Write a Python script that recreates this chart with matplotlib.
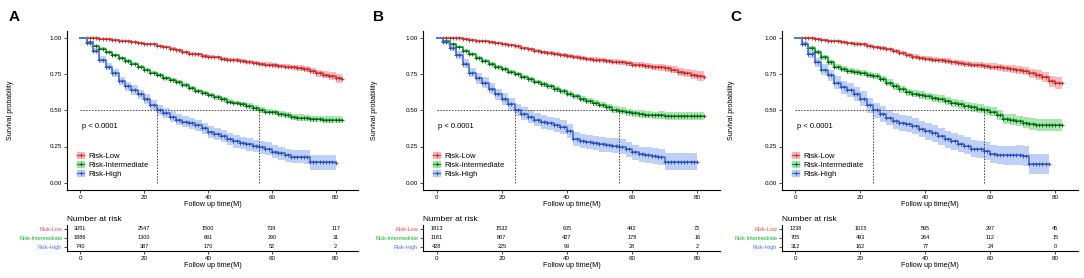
import matplotlib
matplotlib.use("Agg")
import matplotlib.pyplot as plt
from matplotlib.patches import Patch
from matplotlib.lines import Line2D
import numpy as np

plt.rcParams['font.family'] = ['Liberation Sans', 'DejaVu Sans']

# follow-up grid (months) used for all curves
t_grid = list(range(0, 84, 2))

groups = ["Risk-Low", "Risk-Intermediate", "Risk-High"]
colors = ["#F0484A", "#12B02A", "#4A78E6"]
mark_colors = ["#C02A2A", "#0A5A14", "#2A4AB0"]
fill_colors = ["#F7A3A3", "#8CDB97", "#A9C1F5"]

# ---- panel A ----
A_low = [1.00, 1.00, 0.995, 0.99, 0.99, 0.985, 0.98, 0.975, 0.97, 0.965, 0.96, 0.955, 0.945, 0.935,
         0.925, 0.915, 0.90, 0.89, 0.885, 0.875, 0.87, 0.865, 0.855, 0.85, 0.845, 0.84, 0.835, 0.825,
         0.82, 0.815, 0.81, 0.805, 0.80, 0.795, 0.79, 0.785, 0.77, 0.755, 0.745, 0.735, 0.72, 0.715]
A_int = [1.00, 0.97, 0.945, 0.925, 0.90, 0.88, 0.86, 0.84, 0.82, 0.80, 0.78, 0.76, 0.745, 0.725,
         0.71, 0.695, 0.675, 0.655, 0.635, 0.62, 0.605, 0.59, 0.575, 0.56, 0.55, 0.54, 0.53, 0.515,
         0.50, 0.49, 0.485, 0.475, 0.465, 0.455, 0.45, 0.445, 0.44, 0.44, 0.435, 0.435, 0.435, 0.435]
A_high = [1.00, 0.965, 0.91, 0.85, 0.80, 0.755, 0.70, 0.665, 0.64, 0.61, 0.575, 0.535, 0.50, 0.48,
          0.455, 0.435, 0.42, 0.41, 0.395, 0.375, 0.35, 0.335, 0.32, 0.30, 0.285, 0.275, 0.265, 0.255,
          0.245, 0.235, 0.215, 0.205, 0.19, 0.18, 0.18, 0.175, 0.14, 0.14, 0.14, 0.14, 0.135]
A_low_ci = [0.0, 0.002, 0.003, 0.004, 0.004, 0.005, 0.005, 0.006, 0.006, 0.007, 0.007, 0.008, 0.008, 0.009,
            0.009, 0.01, 0.01, 0.011, 0.011, 0.012, 0.012, 0.012, 0.013, 0.013, 0.013, 0.014, 0.014, 0.015,
            0.015, 0.016, 0.016, 0.017, 0.018, 0.019, 0.02, 0.021, 0.022, 0.024, 0.026, 0.028, 0.03, 0.03]
A_int_ci = [0.0, 0.006, 0.007, 0.008, 0.009, 0.01, 0.01, 0.011, 0.011, 0.012, 0.012, 0.013, 0.013, 0.013,
            0.014, 0.014, 0.014, 0.015, 0.015, 0.015, 0.016, 0.016, 0.016, 0.017, 0.017, 0.018, 0.018, 0.018,
            0.019, 0.019, 0.02, 0.02, 0.021, 0.021, 0.022, 0.022, 0.023, 0.023, 0.024, 0.024, 0.025, 0.025]
A_high_ci = [0.0, 0.012, 0.018, 0.022, 0.025, 0.027, 0.029, 0.031, 0.032, 0.033, 0.034, 0.035, 0.036, 0.036,
             0.037, 0.037, 0.038, 0.038, 0.039, 0.039, 0.04, 0.04, 0.041, 0.041, 0.042, 0.042, 0.043, 0.043,
             0.044, 0.044, 0.045, 0.045, 0.046, 0.046, 0.047, 0.048, 0.05, 0.05, 0.05, 0.05, 0.05]
A_risk = [[3051, 2547, 1500, 739, 117], [1886, 1300, 691, 290, 31], [740, 387, 170, 52, 2]]

# ---- panel B ----
B_low = [1.00, 1.00, 0.995, 0.995, 0.99, 0.985, 0.98, 0.975, 0.97, 0.965, 0.955, 0.95, 0.94, 0.93,
         0.92, 0.91, 0.90, 0.895, 0.89, 0.88, 0.875, 0.87, 0.86, 0.855, 0.85, 0.845, 0.84, 0.835,
         0.83, 0.825, 0.815, 0.81, 0.805, 0.80, 0.795, 0.79, 0.78, 0.765, 0.755, 0.745, 0.735, 0.73]
B_int = [1.00, 0.975, 0.955, 0.935, 0.91, 0.885, 0.86, 0.84, 0.82, 0.80, 0.785, 0.765, 0.75, 0.73,
         0.715, 0.695, 0.68, 0.665, 0.645, 0.63, 0.615, 0.595, 0.58, 0.565, 0.55, 0.535, 0.52, 0.505,
         0.495, 0.485, 0.48, 0.475, 0.47, 0.465, 0.465, 0.46, 0.46, 0.46, 0.46, 0.46, 0.46, 0.46]
B_high = [1.00, 0.97, 0.93, 0.88, 0.82, 0.76, 0.72, 0.69, 0.65, 0.61, 0.58, 0.54, 0.50, 0.475,
          0.455, 0.435, 0.42, 0.41, 0.40, 0.385, 0.355, 0.30, 0.29, 0.28, 0.275, 0.265, 0.26, 0.255,
          0.25, 0.23, 0.21, 0.195, 0.19, 0.185, 0.175, 0.145, 0.145, 0.145, 0.145, 0.145, 0.145]
B_low_ci = [0.0, 0.002, 0.003, 0.004, 0.005, 0.005, 0.006, 0.006, 0.007, 0.007, 0.008, 0.008, 0.009, 0.009,
            0.01, 0.011, 0.011, 0.012, 0.012, 0.013, 0.013, 0.014, 0.014, 0.015, 0.015, 0.016, 0.016, 0.017,
            0.017, 0.018, 0.019, 0.02, 0.021, 0.022, 0.023, 0.024, 0.025, 0.027, 0.029, 0.031, 0.033, 0.033]
B_int_ci = [0.0, 0.007, 0.008, 0.009, 0.01, 0.011, 0.012, 0.013, 0.013, 0.014, 0.015, 0.015, 0.016, 0.016,
            0.017, 0.017, 0.018, 0.018, 0.019, 0.019, 0.02, 0.02, 0.021, 0.021, 0.022, 0.022, 0.023, 0.023,
            0.024, 0.024, 0.025, 0.025, 0.026, 0.026, 0.027, 0.027, 0.028, 0.028, 0.029, 0.029, 0.03, 0.03]
B_high_ci = [0.0, 0.016, 0.022, 0.027, 0.031, 0.034, 0.036, 0.038, 0.039, 0.04, 0.041, 0.042, 0.043, 0.044,
             0.045, 0.045, 0.046, 0.046, 0.047, 0.047, 0.048, 0.048, 0.049, 0.049, 0.05, 0.05, 0.051, 0.051,
             0.052, 0.052, 0.053, 0.053, 0.054, 0.055, 0.056, 0.06, 0.06, 0.06, 0.06, 0.06, 0.06]
B_risk = [[1813, 1532, 905, 442, 72], [1181, 807, 427, 178, 16], [428, 225, 93, 28, 2]]

# ---- panel C ----
C_low = [1.00, 1.00, 0.995, 0.99, 0.985, 0.98, 0.975, 0.97, 0.965, 0.96, 0.955, 0.945, 0.935, 0.93,
         0.92, 0.91, 0.895, 0.88, 0.87, 0.86, 0.855, 0.85, 0.845, 0.84, 0.83, 0.825, 0.82, 0.815,
         0.81, 0.805, 0.80, 0.795, 0.79, 0.785, 0.775, 0.77, 0.755, 0.745, 0.73, 0.70, 0.69, 0.69]
C_int = [1.00, 0.96, 0.93, 0.90, 0.865, 0.83, 0.80, 0.785, 0.77, 0.765, 0.755, 0.745, 0.735, 0.715,
         0.69, 0.665, 0.645, 0.625, 0.615, 0.605, 0.595, 0.585, 0.575, 0.565, 0.55, 0.54, 0.53, 0.52,
         0.51, 0.50, 0.49, 0.465, 0.44, 0.435, 0.425, 0.415, 0.405, 0.40, 0.40, 0.40, 0.40, 0.40]
C_high = [1.00, 0.96, 0.89, 0.83, 0.78, 0.74, 0.69, 0.66, 0.64, 0.61, 0.58, 0.535, 0.50, 0.475,
          0.45, 0.425, 0.415, 0.405, 0.39, 0.37, 0.355, 0.34, 0.32, 0.30, 0.285, 0.27, 0.255, 0.235,
          0.23, 0.22, 0.20, 0.19, 0.19, 0.19, 0.19, 0.185, 0.13, 0.13, 0.13, 0.13]
C_low_ci = [0.0, 0.003, 0.004, 0.005, 0.006, 0.007, 0.007, 0.008, 0.008, 0.009, 0.01, 0.01, 0.011, 0.012,
            0.012, 0.013, 0.014, 0.014, 0.015, 0.016, 0.016, 0.017, 0.017, 0.018, 0.018, 0.019, 0.019, 0.02,
            0.021, 0.022, 0.023, 0.024, 0.025, 0.026, 0.028, 0.03, 0.032, 0.034, 0.036, 0.038, 0.04, 0.04]
C_int_ci = [0.0, 0.01, 0.012, 0.013, 0.015, 0.016, 0.017, 0.018, 0.019, 0.02, 0.021, 0.021, 0.022, 0.022,
            0.023, 0.024, 0.024, 0.025, 0.025, 0.026, 0.026, 0.027, 0.027, 0.028, 0.028, 0.029, 0.029, 0.03,
            0.031, 0.032, 0.033, 0.034, 0.035, 0.036, 0.037, 0.038, 0.039, 0.04, 0.04, 0.04, 0.04, 0.04]
C_high_ci = [0.0, 0.02, 0.027, 0.033, 0.037, 0.04, 0.043, 0.045, 0.047, 0.048, 0.05, 0.051, 0.052, 0.053,
             0.054, 0.054, 0.055, 0.055, 0.056, 0.056, 0.057, 0.057, 0.058, 0.058, 0.059, 0.059, 0.06, 0.06,
             0.061, 0.062, 0.063, 0.064, 0.065, 0.066, 0.067, 0.068, 0.07, 0.07, 0.07, 0.07]
C_risk = [[1238, 1015, 595, 297, 45], [705, 493, 264, 112, 15], [312, 162, 77, 24, 0]]

panels = [
    ("A", [A_low, A_int, A_high], [A_low_ci, A_int_ci, A_high_ci], A_risk),
    ("B", [B_low, B_int, B_high], [B_low_ci, B_int_ci, B_high_ci], B_risk),
    ("C", [C_low, C_int, C_high], [C_low_ci, C_int_ci, C_high_ci], C_risk),
]
risk_times = [0, 20, 40, 60, 80]

W, H = 1084, 278
fig = plt.figure(figsize=(W / 100, H / 100), dpi=100)

# pixel boxes: (left, right) for each panel, main plot top/bottom, table top/bottom
x_boxes = [(67, 358), (423, 720), (782, 1078)]
main_tb = (30.5, 190)
tab_tb = (225, 251)
letter_x = [14, 378, 736]
ylab_x = [14, 378, 735]


def px_axes(l, r, t, b):
    return fig.add_axes([l / W, 1 - b / H, (r - l) / W, (b - t) / H])


for k, (letter, curves, cis, risk) in enumerate(panels):
    l, r = x_boxes[k]
    ax = px_axes(l, r, main_tb[0], main_tb[1])
    for i, (s, ci) in enumerate(zip(curves, cis)):
        t = np.array(t_grid[:len(s)])
        s = np.array(s)
        ci = np.array(ci)
        ax.fill_between(t, np.clip(s - ci, 0, 1), np.clip(s + ci, 0, 1), step="post",
                        color=fill_colors[i], alpha=0.75, lw=0)
        ax.plot(t, s, drawstyle="steps-post", color=colors[i], lw=1.3)
        ax.plot(t[1:], s[1:], ls="none", marker="+", ms=2.5, mew=0.6, color=mark_colors[i])
        ax.plot(t[1:-1] + 1, s[1:-1], ls="none", marker="+", ms=2.5, mew=0.6, color=mark_colors[i])

    # medians of intermediate and high groups
    meds = []
    for s in curves[1:]:
        idx = next(j for j, v in enumerate(s) if v <= 0.5)
        meds.append(t_grid[idx])
    ax.plot([0, max(meds)], [0.5, 0.5], ls=(0, (1.5, 1.5)), color="#444444", lw=0.7)
    for m in meds:
        ax.plot([m, m], [0, 0.5], ls=(0, (1.5, 1.5)), color="#444444", lw=0.7)

    ax.text(0.5, 0.385, "p < 0.0001", fontsize=5.5, va="center", ha="left")

    handles = [(Patch(color=fill_colors[i], alpha=0.75),
                Line2D([], [], color=colors[i], lw=1.0, marker="+", ms=2.5, mew=0.6,
                       markeredgecolor=mark_colors[i])) for i in range(3)]
    ax.legend(handles, groups, loc="upper left", bbox_to_anchor=(0.015, 0.27), frameon=False,
              fontsize=5.5, handlelength=1.0, handleheight=0.8, handletextpad=0.5,
              labelspacing=0.2, borderpad=0.2)

    ax.set_xlim(-4.15, 87)
    ax.set_ylim(-0.05, 1.05)
    ax.set_xticks(risk_times)
    ax.set_yticks([0, 0.25, 0.5, 0.75, 1.0])
    ax.set_yticklabels(["0.00", "0.25", "0.50", "0.75", "1.00"])
    for sp in ["top", "right"]:
        ax.spines[sp].set_visible(False)
    ax.spines["left"].set_linewidth(0.8)
    ax.spines["bottom"].set_linewidth(0.8)
    ax.tick_params(labelsize=4.5, length=2, width=0.5, pad=1.5)
    ax.set_xlabel("Follow up time(M)", fontsize=5.2, labelpad=1)
    ax.set_ylabel("Survival probability", fontsize=5)
    ax.yaxis.set_label_coords((ylab_x[k] - l) / (r - l), 0.5)

    fig.text(letter_x[k] / W, 1 - 17 / H, letter, fontsize=11, fontweight="bold",
             ha="center", va="center")

    # risk table
    tx = px_axes(l, r, tab_tb[0], tab_tb[1])
    for i, row in enumerate(risk):
        for tt, n in zip(risk_times, row):
            tx.text(tt, 3 - i, str(n), fontsize=4, ha="center", va="center")
    tx.set_xlim(-4.15, 87)
    tx.set_ylim(0.5, 3.4)
    tx.set_xticks(risk_times)
    tx.set_yticks([3, 2, 1])
    tx.set_yticklabels(groups)
    for lab, c in zip(tx.get_yticklabels(), colors):
        lab.set_color(c)
    for sp in ["top", "right"]:
        tx.spines[sp].set_visible(False)
    tx.spines["left"].set_linewidth(0.8)
    tx.spines["bottom"].set_linewidth(0.8)
    tx.tick_params(labelsize=4, length=2, width=0.5, pad=1.5)
    tx.tick_params(axis="x", labelsize=4.5)
    tx.set_xlabel("Follow up time(M)", fontsize=5.2, labelpad=1)
    tx.set_title("Number at risk", loc="left", fontsize=6, pad=3)

fig.savefig("out.png", dpi=100)
